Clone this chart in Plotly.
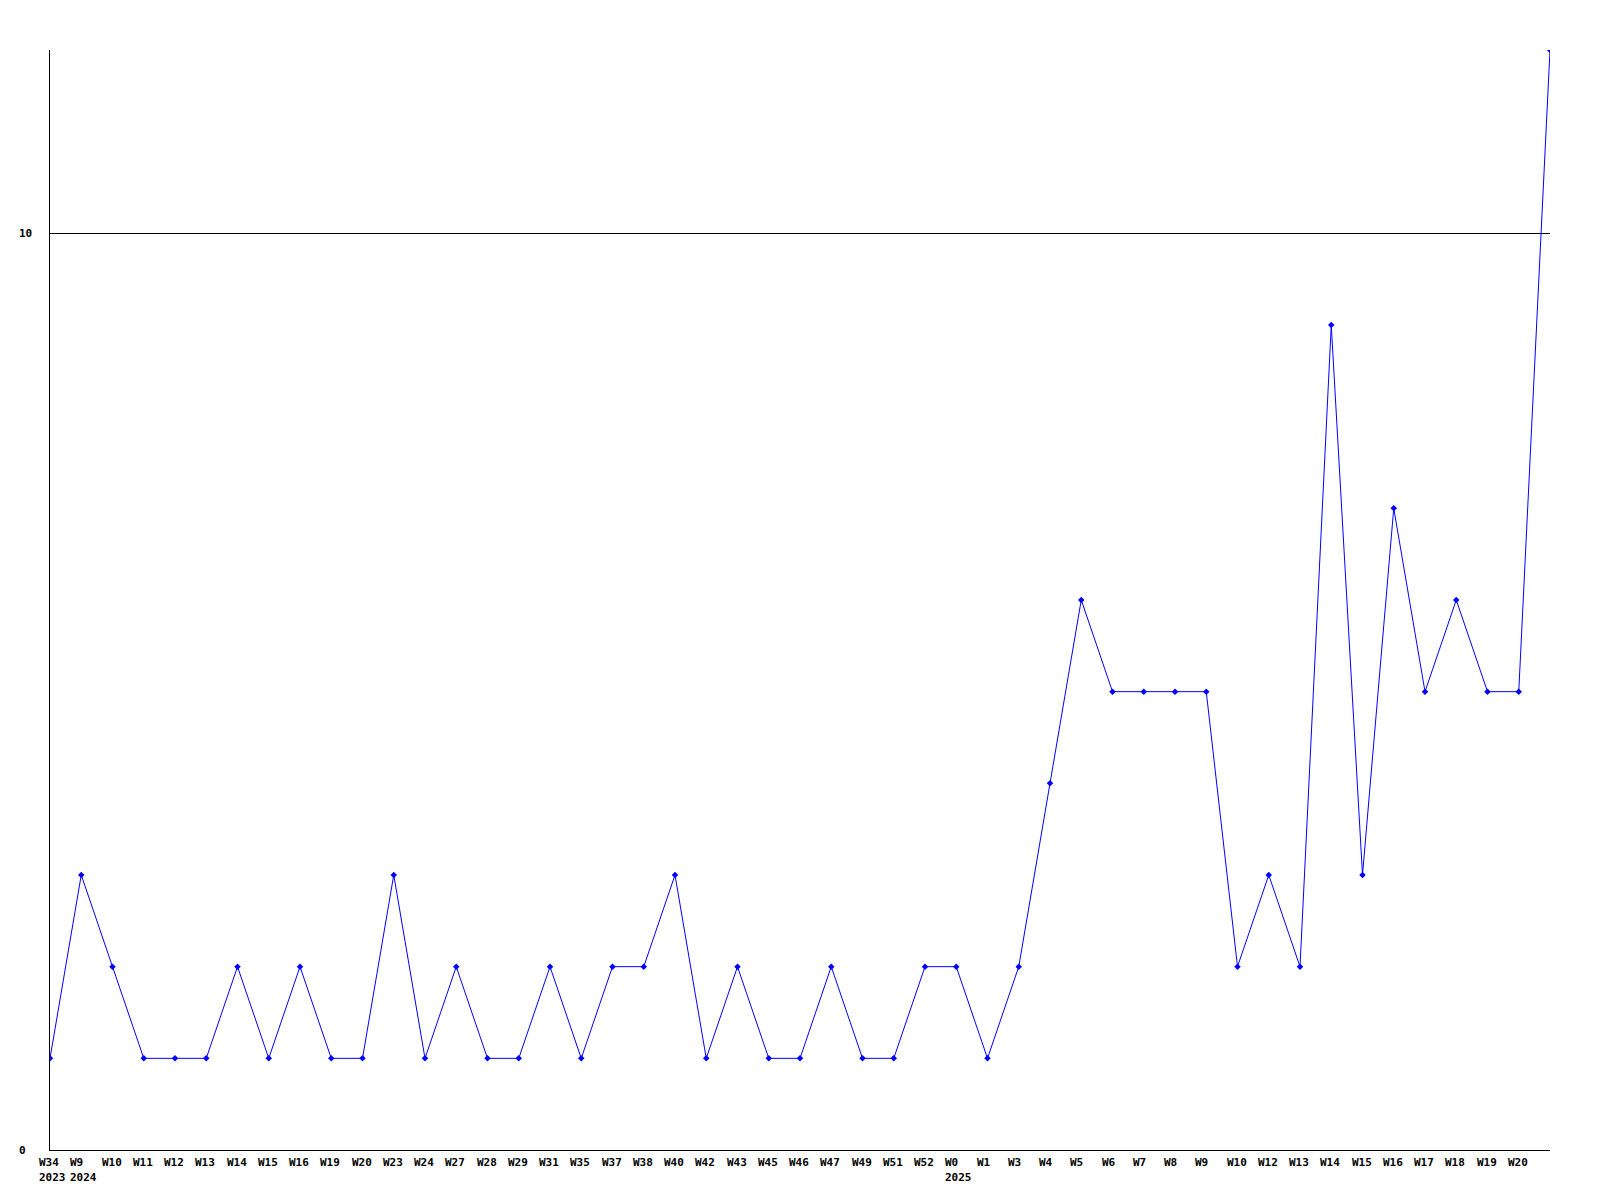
import plotly.graph_objects as go

weeks = ["W34", "W9", "W10", "W11", "W12", "W13", "W14", "W15", "W16", "W19", "W20",
         "W23", "W24", "W27", "W28", "W29", "W31", "W35", "W37", "W38", "W40", "W42",
         "W43", "W45", "W46", "W47", "W49", "W51", "W52", "W0", "W1", "W3", "W4", "W5",
         "W6", "W7", "W8", "W9", "W10", "W12", "W13", "W14", "W15", "W16", "W17", "W18",
         "W19", "W20", ""]
years = ["2023", "2024", "", "", "", "", "", "", "", "", "",
         "", "", "", "", "", "", "", "", "", "", "",
         "", "", "", "", "", "", "", "2025", "", "", "", "",
         "", "", "", "", "", "", "", "", "", "", "", "",
         "", "", ""]
values = [1, 3, 2, 1, 1, 1, 2, 1, 2, 1, 1,
          3, 1, 2, 1, 1, 2, 1, 2, 2, 3, 1,
          2, 1, 1, 2, 1, 1, 2, 2, 1, 2, 4, 6,
          5, 5, 5, 5, 2, 3, 2, 9, 3, 7, 5, 6,
          5, 5, 12]
y_ticks = [0, 10]

idx = list(range(len(values)))
font = dict(family="DejaVu Sans Mono", size=11, color="black")

fig = go.Figure()
fig.add_trace(go.Scatter(
    x=idx, y=values, mode="lines+markers",
    line=dict(color="#0000ff", width=1),
    marker=dict(symbol="diamond", size=5, color="#0000ff"),
    hoverinfo="skip", showlegend=False,
))

annotations = []
for i, (w, yr) in enumerate(zip(weeks, years)):
    if w:
        annotations.append(dict(x=i, y=0, xref="x", yref="paper", text=f"<b>{w}</b>",
                                showarrow=False, xanchor="left", yanchor="middle",
                                xshift=-13, yshift=-12, font=font))
    if yr:
        annotations.append(dict(x=i, y=0, xref="x", yref="paper", text=f"<b>{yr}</b>",
                                showarrow=False, xanchor="left", yanchor="middle",
                                xshift=-13, yshift=-27, font=font))
for t in y_ticks:
    annotations.append(dict(x=0, y=t, xref="paper", yref="y", text=f"<b>{t}</b>",
                            showarrow=False, xanchor="left", yanchor="middle",
                            xshift=-33, font=font))

fig.update_layout(
    width=1592, height=1192,
    margin=dict(l=42, r=50, t=42, b=50),
    paper_bgcolor="white", plot_bgcolor="white",
    xaxis=dict(range=[0, len(values) - 1], showgrid=False, zeroline=False,
               showticklabels=False, ticks="", showline=True, linecolor="black",
               linewidth=1),
    yaxis=dict(range=[0, 12], tickvals=[10], showgrid=True, gridcolor="black",
               gridwidth=1, zeroline=False, showticklabels=False, ticks="",
               showline=True, linecolor="black", linewidth=1),
    annotations=annotations,
)

fig.write_html("out.html")
